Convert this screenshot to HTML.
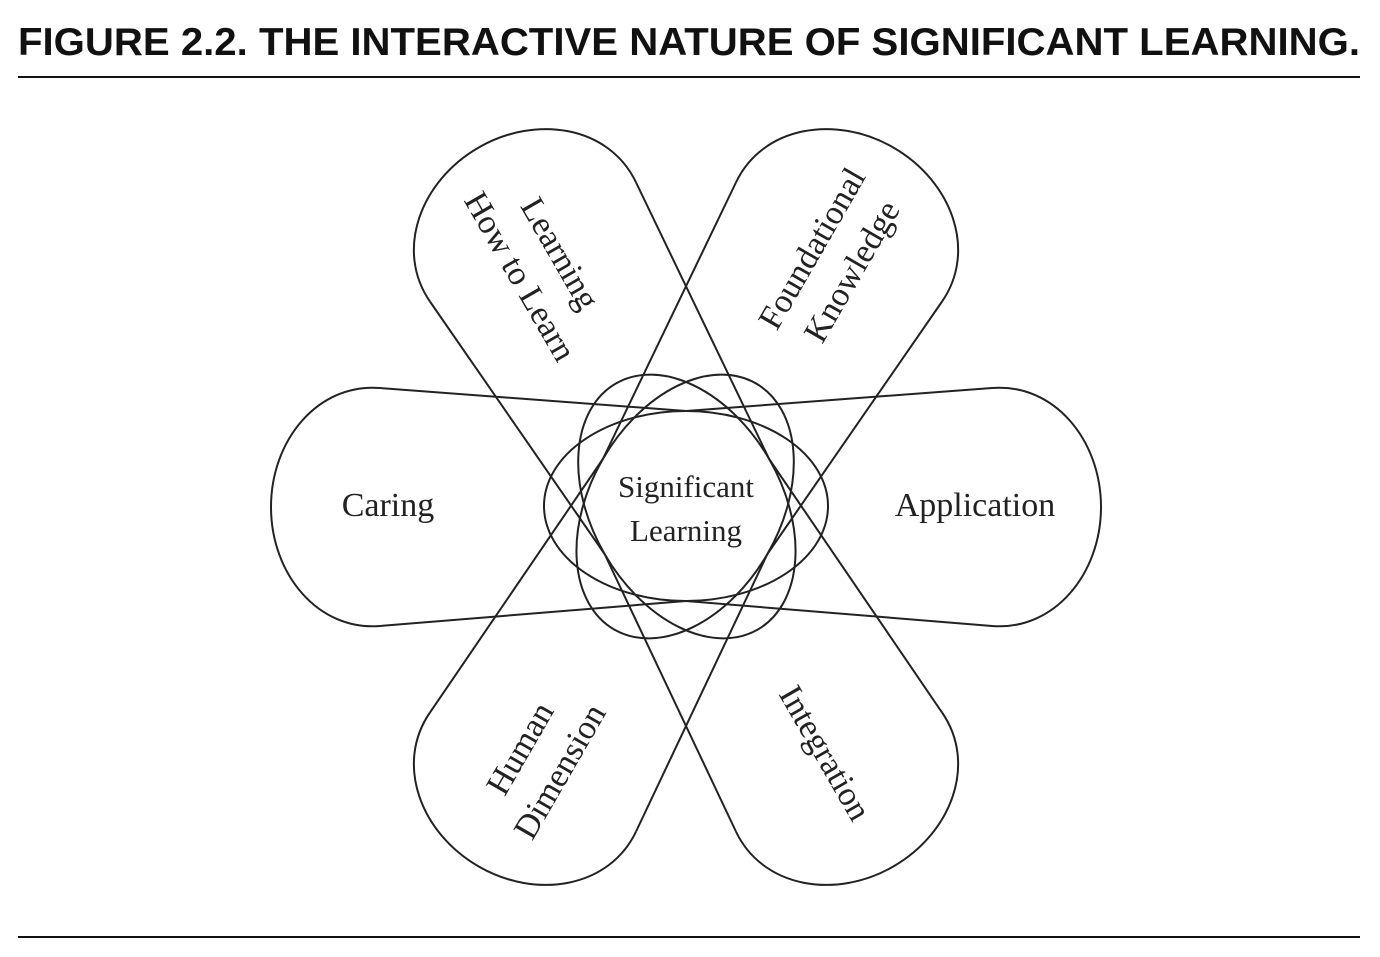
<!DOCTYPE html>
<html><head><meta charset="utf-8"><style>html,body{margin:0;padding:0;background:#fff}svg{display:block}</style></head>
<body>
<svg width="1380" height="957" viewBox="0 0 1380 957" xmlns="http://www.w3.org/2000/svg">
<text x="18" y="55" font-family="Liberation Sans, sans-serif" font-weight="bold" font-size="39" textLength="1342" lengthAdjust="spacingAndGlyphs" fill="#111">FIGURE 2.2.  THE INTERACTIVE NATURE OF SIGNIFICANT LEARNING.</text>
<line x1="18" y1="77" x2="1360" y2="77" stroke="#111" stroke-width="2"/>
<line x1="18" y1="937" x2="1360" y2="937" stroke="#111" stroke-width="2"/>
<defs>
<g id="pair" fill="none" stroke="#222" stroke-width="2">
<ellipse cx="686" cy="506" rx="142" ry="95"/>
<path d="M380,388 L686,411 M992,388 L686,411 M380,626 L686,601 M992,626 L686,601"/>
<path d="M380,388 C318,383 271,440 271,507 C271,574 318,631 380,626"/>
<path d="M992,388 C1054,383 1101,440 1101,507 C1101,574 1054,631 992,626"/>
</g>
</defs>
<use href="#pair"/>
<use href="#pair" transform="rotate(-60 686 507)"/>
<use href="#pair" transform="rotate(60 686 507)"/>
<g font-family="Liberation Serif, serif" font-size="34" fill="#222" text-anchor="middle">
<text x="686" y="497" font-size="31">Significant</text>
<text x="686" y="541" font-size="31">Learning</text>
<text x="388" y="516">Caring</text>
<text x="975" y="516">Application</text>
<g transform="translate(540,265) rotate(60)">
<text x="0" y="-12">Learning</text>
<text x="0" y="34">How to Learn</text>
</g>
<g transform="translate(832,260) rotate(-60)">
<text x="0" y="-12">Foundational</text>
<text x="0" y="34">Knowledge</text>
</g>
<g transform="translate(540,760) rotate(-60)">
<text x="0" y="-12">Human</text>
<text x="0" y="34">Dimension</text>
</g>
<g transform="translate(825,753) rotate(60)">
<text x="0" y="11">Integration</text>
</g>
</g>
</svg>
</body></html>
